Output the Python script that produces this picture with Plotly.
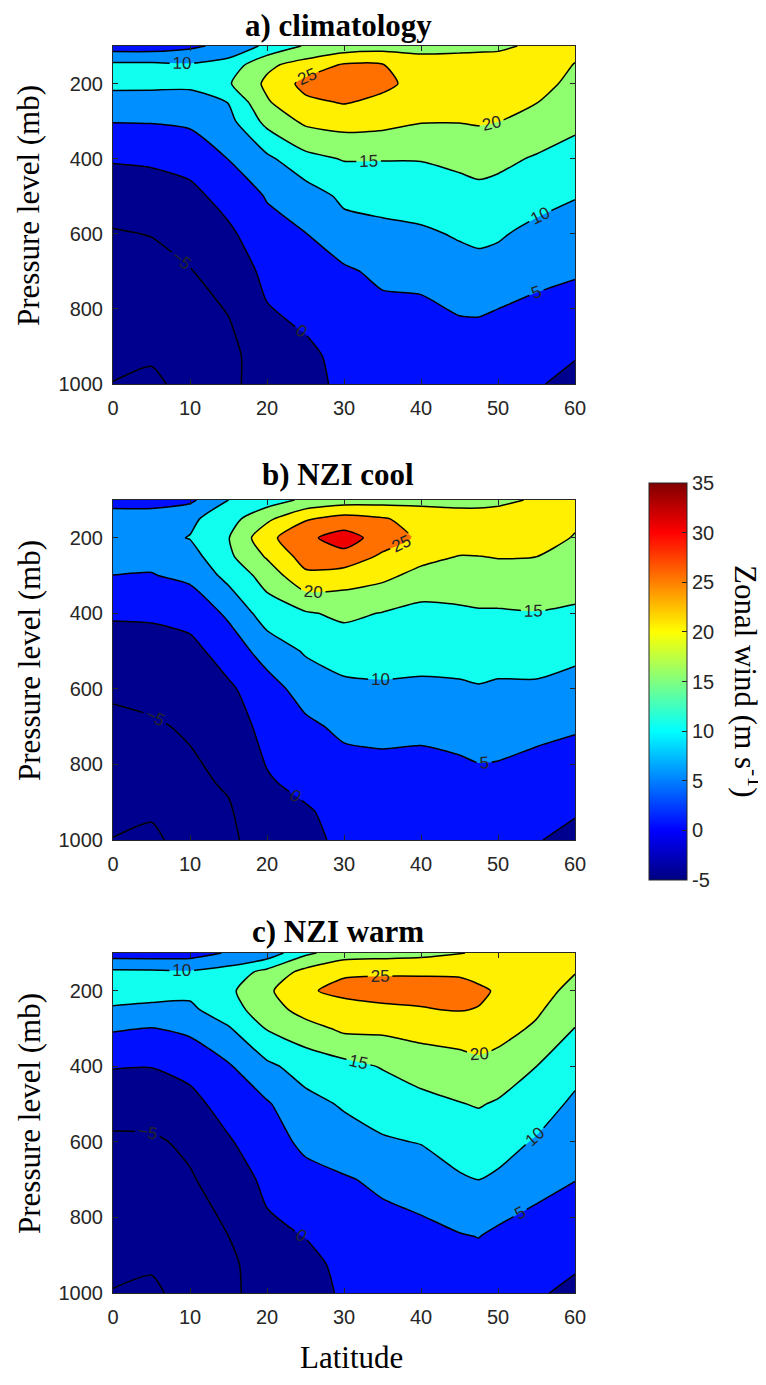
import numpy as np
import plotly.graph_objects as go

lats = [0, 5, 10, 15, 20, 25, 30, 35, 40, 45, 47.5, 50, 55, 60]
levels = [100, 150, 200, 250, 300, 400, 500, 600, 700, 850, 925, 1000]

# zonal wind (m/s), one profile per latitude, 100 mb -> 1000 mb
clim = [
    [2.5, 11, 11.5, 7.5, 5.2, 0.3, -2, -5.5, -7, -7, -6, -4.9],
    [2.5, 11, 11.2, 7.8, 5.3, 0.8, -2.5, -4.8, -7, -6.5, -5.3, -4.5],
    [4, 10.5, 11, 8, 5.8, 2, -1.5, -3.3, -5.2, -7, -6.5, -5.8],
    [6.5, 12, 14.5, 10.1, 8.5, 5.1, 2, -1, -3, -5.5, -6.5, -6],
    [11, 19, 21, 19.5, 16.5, 9, 5.3, 3.5, 1.2, -1, -2, -3],
    [15.5, 22, 26.5, 24, 21, 13.5, 7.5, 4.9, 3, 0.3, -1, -1.5],
    [17, 25.5, 27, 25.3, 22, 15.3, 11, 8, 4.3, 2, 1.3, 1],
    [18, 25.2, 26, 24, 21.6, 15.2, 12, 8.5, 6, 3, 2.5, 2],
    [18.5, 22, 23.5, 22.5, 20.3, 15.2, 12.5, 9.2, 6.2, 3.3, 2.5, 2],
    [18.5, 22.5, 23, 22, 20.2, 16.2, 13, 10.5, 8, 4.2, 3, 2.5],
    [19, 22, 23, 22, 20.5, 16.5, 13.8, 11.3, 8, 4.3, 3, 2.5],
    [19, 22.5, 23, 22, 20.1, 16.2, 13.2, 10.6, 8, 3.5, 2.5, 1.5],
    [21, 23, 22, 20.1, 18.5, 14.5, 12, 8.5, 6.2, 3, 1.5, 0.3],
    [21.5, 19.8, 18.5, 17.5, 16.5, 12.5, 10.2, 8, 5.5, 2, 0.2, -1],
]

cool = [
    [3, 7.5, 8.5, 7, 4.95, 0.5, -2, -4, -6.5, -7, -6, -4.9],
    [3, 7.5, 8.5, 6, 4.8, 0.8, -2.3, -3.8, -5.5, -6.5, -5.3, -4.5],
    [4, 9, 10.2, 8, 6, 1.8, -1.5, -3.2, -4.5, -6, -6.5, -6],
    [10, 13, 14.8, 14, 11.5, 5.8, 2.3, -0.8, -2.5, -4.5, -5.5, -6],
    [12.5, 19, 23.5, 20.5, 17, 12.5, 7, 3, 1.5, -0.5, -1.5, -2.5],
    [16, 24.5, 29, 27, 24, 14.5, 10.5, 7, 4, 1.2, -0.5, -1],
    [17.5, 27, 32, 28.5, 22.5, 16, 12, 9, 6, 2.5, 1.5, 0.8],
    [18, 25.5, 28, 24, 21.2, 14.8, 12.5, 9.2, 6.3, 3, 2.5, 1.5],
    [18.5, 23, 24, 21.5, 18.5, 13.5, 12, 9, 6, 3, 2.5, 2],
    [18.5, 22, 23, 19.8, 18.5, 14, 12, 9.3, 7, 3, 2.5, 2],
    [18.5, 22, 23, 19.9, 18.2, 14.5, 12, 9.7, 7.7, 3.5, 2.5, 2],
    [19, 22, 22.5, 20.2, 18.3, 14.5, 12.2, 9.2, 7.3, 3.5, 2, 1.2],
    [20.5, 22.5, 22, 20, 18.5, 14.8, 12, 9.3, 6.2, 2.8, 1.2, 0.2],
    [21, 20.8, 19.7, 18.5, 17.5, 14.2, 11, 8.5, 5.5, 2, 0.3, -1],
]

warm = [
    [2.5, 11, 11.5, 9.6, 5.5, 0.2, -2.5, -6, -7, -7, -6, -4.8],
    [2.5, 10.8, 11.3, 9.2, 4.8, 0.1, -2.5, -5.8, -7.2, -6.5, -5.3, -4.5],
    [2.8, 10.5, 11.2, 9, 6, 1.5, -1.5, -4, -5.5, -7, -6.5, -6],
    [5.5, 12, 14, 13, 9.5, 4.5, 2, -0.5, -2.5, -5, -6, -6],
    [7, 16.5, 19, 17.5, 15.3, 9, 4.5, 3, 1, -1, -2.5, -3],
    [14, 21.5, 24.5, 22, 18, 12, 8.5, 6, 3.5, 0.1, -1.2, -1.5],
    [17.5, 24.5, 26, 23.5, 21, 13.5, 10.5, 8, 4.5, 2, 1, 0.5],
    [18, 24.7, 26, 24.5, 21, 15.3, 12, 9.5, 6, 3, 2, 1.5],
    [18.5, 24.7, 26, 24.8, 21.8, 17.2, 13.5, 10.2, 7.5, 3.5, 2.5, 2],
    [19.8, 24.6, 26, 25.2, 22.5, 18, 14.8, 12, 9.5, 4.7, 3.5, 2.5],
    [20.5, 23.5, 25.8, 24.8, 22.8, 18.8, 15.3, 12.5, 10, 5.1, 3.5, 2.5],
    [21, 23, 24.5, 24, 22, 18, 14.5, 12, 9.2, 4, 3, 2],
    [21.5, 22.5, 22, 20.8, 19.2, 15, 12.5, 9.5, 6.5, 3, 1.5, 0.5],
    [21.5, 20.2, 18.5, 16.5, 14.9, 11.8, 9, 7, 5.1, 2, 0.5, -1],
]

titles = ["a) climatology", "b) NZI cool", "c) NZI warm"]
cbar_ticks = [-5, 0, 5, 10, 15, 20, 25, 30, 35]

# the page puts the figure 8px in from the top-left corner of the window
OFF = 8
W, H = 766 - OFF, 1385 - OFF
INK = "#262626"
SERIF = "Liberation Serif"
SANS = "Liberation Sans"

# matlab jet, sampled at the lower level of each 5 m/s band
fill_scale = [
    [0.0, "rgb(0,0,143)"], [0.125, "rgb(0,0,143)"], [0.25, "rgb(0,16,255)"],
    [0.375, "rgb(0,143,255)"], [0.5, "rgb(16,255,239)"], [0.625, "rgb(143,255,112)"],
    [0.75, "rgb(255,239,0)"], [0.875, "rgb(255,112,0)"], [1.0, "rgb(239,0,0)"],
]
jet = [
    [0.0, "rgb(0,0,128)"], [0.125, "rgb(0,0,255)"], [0.375, "rgb(0,255,255)"],
    [0.625, "rgb(255,255,0)"], [0.875, "rgb(255,0,0)"], [1.0, "rgb(128,0,0)"],
]

# panel boxes in window pixels (top, bottom); shared left/right
x0, x1 = 113, 575
boxes = [(46, 384), (500, 840), (953, 1293)]
title_y = [25, 474, 931]


def px(v):
    return (v - OFF) / W


def py(v):
    return 1 - (v - OFF) / H


def label(text, x, y, angle=0, bold=False):
    if bold:
        text = "<b>" + text + "</b>"
    fig.add_annotation(text=text, xref="paper", yref="paper", x=px(x), y=py(y),
                       xanchor="center", yanchor="middle", textangle=angle,
                       showarrow=False, font=dict(family=SERIF, size=31, color="black"))


fig = go.Figure()
for i, data in enumerate([clim, cool, warm]):
    n = "" if i == 0 else str(i + 1)
    fig.add_trace(go.Contour(
        x=lats, y=levels, z=np.array(data).T,
        xaxis="x" + n, yaxis="y" + n,
        autocontour=False,
        contours=dict(start=-5, end=30, size=5, coloring="fill", showlabels=True,
                      labelfont=dict(size=17, color=INK, family=SANS)),
        colorscale=fill_scale, showscale=False,
        line=dict(color="black", width=1.5, smoothing=0.6),
        hoverinfo="skip",
    ))
    top, bot = boxes[i]
    axstyle = dict(showline=True, mirror="ticks", linecolor=INK, linewidth=1,
                   ticks="inside", ticklen=5, tickcolor=INK, automargin=False,
                   tickfont=dict(family=SANS, size=20, color=INK), showgrid=False,
                   zeroline=False)
    fig.update_layout(**{
        "xaxis" + n: dict(domain=[px(x0), px(x1)], range=[0, 60], anchor="y" + n,
                          tickvals=[0, 10, 20, 30, 40, 50, 60], ticklabelstandoff=6,
                          **axstyle),
        "yaxis" + n: dict(domain=[py(bot), py(top)], range=[1000, 100], anchor="x" + n,
                          tickvals=[200, 400, 600, 800, 1000], ticklabelstandoff=5,
                          **axstyle),
    })
    label(titles[i], 338, title_y[i], bold=True)
    label("Pressure level (mb)", 29, (top + bot) / 2 - 9, angle=-90)

fig.add_trace(go.Scatter(
    x=[None], y=[None], mode="markers", xaxis="x2", yaxis="y2", showlegend=False,
    hoverinfo="skip",
    marker=dict(color=[0], cmin=-5, cmax=35, colorscale=jet, showscale=True,
                colorbar=dict(x=px(649), xanchor="left", y=py(681.5), yanchor="middle",
                              len=397 / H, lenmode="fraction", thickness=38,
                              outlinewidth=1, outlinecolor=INK, tickvals=cbar_ticks,
                              ticktext=[str(t) for t in cbar_ticks],
                              ticks="inside", ticklen=5, tickcolor=INK,
                              tickfont=dict(family=SANS, size=20, color=INK),
                              xpad=0, ypad=0)),
))

label("Zonal wind (m s<sup>-1</sup>)", 748, 681, angle=90)
label("Latitude", 351, 1357)

fig.update_layout(width=W, height=H, margin=dict(l=0, r=0, t=0, b=0),
                  paper_bgcolor="white", plot_bgcolor="white", showlegend=False)

fig.write_html("out.html")
